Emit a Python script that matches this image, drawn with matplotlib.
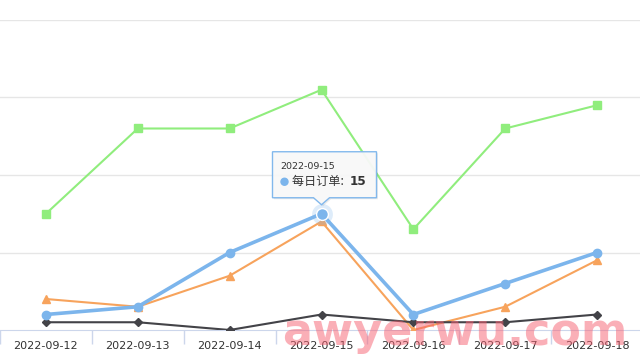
import matplotlib
matplotlib.use("Agg")
import matplotlib.pyplot as plt
import matplotlib.transforms as mtransforms
from matplotlib.patches import Polygon, Circle

# data
dates = ["2022-09-12", "2022-09-13", "2022-09-14", "2022-09-15",
         "2022-09-16", "2022-09-17", "2022-09-18"]
green_vals = [15, 26, 26, 31, 13, 26, 29]
blue_vals = [2, 3, 10, 15, 2, 6, 10]
orange_vals = [4, 3, 7, 14, 0, 3, 9]
dark_vals = [1, 1, 0, 2, 1, 1, 2]
tip_series = "每日订单"
tip_idx = 3

fig = plt.figure(figsize=(6.4, 3.6), dpi=100)
ax = fig.add_axes([0, 30 / 360, 643 / 640, 310 / 360])

x = list(range(len(dates)))
ax.plot(x, green_vals, color="#90ed7d", lw=1.5, marker="s", ms=6, zorder=3)
ax.plot(x, orange_vals, color="#f7a35c", lw=1.5, marker="^", ms=6, zorder=3)
ax.plot(x, dark_vals, color="#434348", lw=1.5, marker="D", ms=4, zorder=3)
ax.plot(x, blue_vals, color="#7cb5ec", lw=2.6, marker="o", ms=6, zorder=4)

# hover halo + enlarged point
ax.plot([tip_idx], [blue_vals[tip_idx]], marker="o", ms=15, color="#7cb5ec",
        alpha=0.25, mec="none", zorder=5)
ax.plot([tip_idx], [blue_vals[tip_idx]], marker="o", ms=8.5, color="#7cb5ec",
        mec="white", mew=1, zorder=6)

ax.set_xlim(-0.5, len(dates) - 0.5)
ax.set_ylim(0, 40)
ax.set_yticks([10, 20, 30, 40])
ax.yaxis.grid(True, color="#e6e6e6", lw=1)
ax.set_axisbelow(True)
ax.tick_params(axis="y", left=False, labelleft=False)
for s in ["top", "right", "left"]:
    ax.spines[s].set_visible(False)
ax.spines["bottom"].set_color("#ccd6eb")
ax.set_xticks(x)
ax.set_xticklabels(dates, fontsize=8, color="#333333", family="DejaVu Sans")
ax.tick_params(axis="x", length=0, pad=8)
ax.set_xticks([i + 0.5 for i in range(-1, len(dates))], minor=True)
ax.tick_params(axis="x", which="minor", length=10, color="#ccd6eb", width=1)

# tooltip, drawn in display pixels
ident = mtransforms.IdentityTransform()
px, py = ax.transData.transform((tip_idx, blue_vals[tip_idx]))
tip_y = py + 9
box_b = tip_y + 7
box_t = box_b + 46
box_l = px - 49
box_r = px + 55
shape = [(box_l, box_b), (px - 8, box_b), (px, tip_y), (px + 8, box_b),
         (box_r, box_b), (box_r, box_t), (box_l, box_t)]
shadow = Polygon([(a + 1.5, b - 1.5) for a, b in shape], closed=True,
                 transform=ident, facecolor="black", alpha=0.08,
                 edgecolor="none", zorder=9)
fig.add_artist(shadow)
box = Polygon(shape, closed=True, transform=ident, facecolor="#f9f9f9",
              alpha=0.95, edgecolor="#7cb5ec", lw=1, zorder=10)
fig.add_artist(box)
fig.text(px - 41, box_t - 15, dates[tip_idx], transform=ident, fontsize=6.8,
         color="#333333", va="center", ha="left", zorder=11)
fig.add_artist(Circle((px - 37, box_t - 30), 3.5, transform=ident,
                      color="#7cb5ec", zorder=11))
fig.text(px - 30, box_t - 30, tip_series + ": ", transform=ident, fontsize=8.7,
         color="#333333", va="center", ha="left", zorder=11,
         family=["Noto Sans CJK SC", "DejaVu Sans"])
fig.text(px + 28, box_t - 30, str(blue_vals[tip_idx]), transform=ident,
         fontsize=8.7, color="#333333", va="center", ha="left",
         fontweight="bold", zorder=11)

# watermark
fig.text(282 / 640, 1 - 345 / 360, "awyerwu.com", fontsize=32,
         color="#f76071", alpha=0.5, ha="left", va="baseline",
         fontweight="bold", zorder=20)

fig.savefig("out.png", dpi=100)
